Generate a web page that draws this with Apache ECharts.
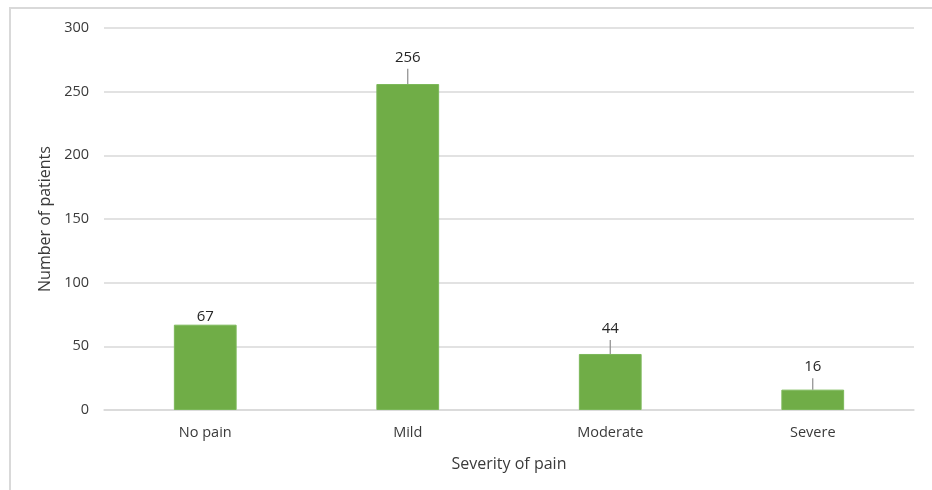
<!DOCTYPE html>
<html>
<head>
<meta charset="utf-8">
<script src="https://cdn.jsdelivr.net/npm/echarts@6/dist/echarts.min.js"></script>
<style>
  html, body { margin: 0; padding: 0; background: #fff; }
  #chart { width: 932px; height: 490px; }
</style>
</head>
<body>
<div id="chart"></div>
<script>
// Pain severity counts with upper error bars
const categories = ['No pain', 'Mild', 'Moderate', 'Severe'];
const patients = [67, 256, 44, 16];
const errorPlus = [0, 12, 11, 9];
const yTicks = { min: 0, max: 300, interval: 50 };

const FONT = '"Open Sans", "Noto Sans", sans-serif';
const TEXT = '#3a3a3a';
const GRID = '#d9d9d9';

const chart = echarts.init(document.getElementById('chart'), null, { renderer: 'canvas' });

const errData = categories.map((c, i) => [i, patients[i], errorPlus[i]]);

chart.setOption({
  animation: false,
  backgroundColor: '#ffffff',
  textStyle: { fontFamily: FONT },
  grid: { left: 104, right: 18, top: 28, bottom: 80 },
  graphic: [
    { type: 'line', shape: { x1: 9, y1: 8, x2: 932, y2: 8 }, style: { stroke: GRID, lineWidth: 2 } },
    { type: 'line', shape: { x1: 10, y1: 7, x2: 10, y2: 490 }, style: { stroke: GRID, lineWidth: 2 } }
  ],
  xAxis: {
    type: 'category',
    data: categories,
    name: 'Severity of pain',
    nameLocation: 'middle',
    nameGap: 46,
    nameTextStyle: { color: TEXT, fontSize: 16, fontFamily: FONT },
    axisLine: { show: true, lineStyle: { color: GRID, width: 1.5 } },
    axisTick: { show: false },
    axisLabel: { color: TEXT, fontSize: 14.5, margin: 15, fontFamily: FONT }
  },
  yAxis: {
    type: 'value',
    min: yTicks.min,
    max: yTicks.max,
    interval: yTicks.interval,
    name: 'Number of patients',
    nameLocation: 'middle',
    nameGap: 51,
    nameTextStyle: { color: TEXT, fontSize: 16, fontFamily: FONT },
    axisLine: { show: false },
    axisTick: { show: false },
    axisLabel: { color: TEXT, fontSize: 14.5, margin: 15, fontFamily: FONT },
    splitLine: { lineStyle: { color: GRID, width: 1.5 } }
  },
  series: [
    {
      type: 'bar',
      data: patients,
      barWidth: '31%',
      itemStyle: { color: '#70ad47', borderColor: '#7cb85a', borderWidth: 1 },
      z: 2
    },
    {
      type: 'custom',
      data: errData,
      z: 3,
      renderItem: function (params, api) {
        const i = api.value(0);
        const v = api.value(1);
        const e = api.value(2);
        const base = api.coord([i, v]);
        const top = api.coord([i, v + e]);
        const children = [];
        if (e > 0) {
          children.push({
            type: 'line',
            shape: { x1: base[0], y1: base[1], x2: top[0], y2: top[1] },
            style: { stroke: '#8c8c8c', lineWidth: 1.2 }
          });
        }
        children.push({
          type: 'text',
          style: {
            text: String(v),
            x: top[0],
            y: top[1] - (e > 0 ? 4 : 0),
            align: 'center',
            verticalAlign: 'bottom',
            fill: '#262626',
            font: '15px ' + FONT
          }
        });
        return { type: 'group', children: children };
      }
    }
  ]
});
</script>
</body>
</html>
